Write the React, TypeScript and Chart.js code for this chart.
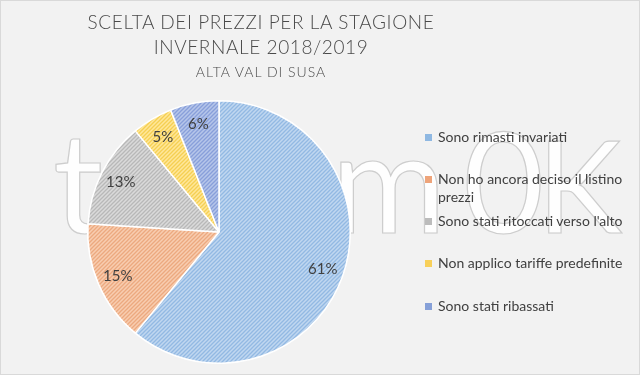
import React, { useEffect, useRef } from "react";
import { Chart, registerables } from "chart.js";

Chart.register(...registerables);

const titleLines = ["SCELTA DEI PREZZI PER LA STAGIONE", "INVERNALE 2018/2019"];
const subtitle = "ALTA VAL DI SUSA";
const categories = [
  "Sono rimasti invariati",
  "Non ho ancora deciso il listino prezzi",
  "Sono stati ritoccati verso l'alto",
  "Non applico tariffe predefinite",
  "Sono stati ribassati",
];
const values = [61, 15, 13, 5, 6];
const bgColors = ["#c0d7f0", "#f8cdb0", "#dadada", "#ffe79a", "#b6c6ea"];
const lineColors = ["#92b9e3", "#eca97f", "#b8b8b8", "#f5cf52", "#889fda"];
const legendColors = ["#8fb8e2", "#eea47a", "#bcbcbc", "#f8d05a", "#86a0d8"];

function makePattern(bg: string, fg: string): CanvasPattern | string {
  const s = 4;
  const c = document.createElement("canvas");
  c.width = s;
  c.height = s;
  const x = c.getContext("2d");
  if (!x) return bg;
  x.fillStyle = bg;
  x.fillRect(0, 0, s, s);
  x.strokeStyle = fg;
  x.lineWidth = 1.3;
  x.beginPath();
  x.moveTo(-1, s + 1);
  x.lineTo(s + 1, -1);
  x.moveTo(-1, 1);
  x.lineTo(1, -1);
  x.moveTo(s - 1, s + 1);
  x.lineTo(s + 1, s - 1);
  x.stroke();
  const p = x.createPattern(c, "repeat");
  return p || bg;
}

const labelPlugin = {
  id: "pctLabels",
  afterDatasetsDraw(chart: any) {
    const ctx = chart.ctx;
    const meta = chart.getDatasetMeta(0);
    ctx.save();
    ctx.font = "400 15px Lato";
    ctx.fillStyle = "#404040";
    ctx.textAlign = "center";
    ctx.textBaseline = "middle";
    meta.data.forEach((arc: any, i: number) => {
      const mid = (arc.startAngle + arc.endAngle) / 2;
      const r = arc.outerRadius * 0.84;
      ctx.fillText(values[i] + "%", arc.x + Math.cos(mid) * r, arc.y + Math.sin(mid) * r);
    });
    ctx.restore();
  },
};

const wmStyle: React.CSSProperties = {
  position: "absolute",
  fontFamily: "Lato, sans-serif",
  fontWeight: 400,
  fontSize: 140,
  lineHeight: "140px",
  color: "rgba(255,255,255,0.9)",
  WebkitTextStroke: "1.2px rgba(200,200,200,0.9)",
};

export default function App() {
  const ref = useRef<HTMLCanvasElement>(null);
  useEffect(() => {
    if (!ref.current) return;
    const patterns = bgColors.map((b, i) => makePattern(b, lineColors[i]));
    const chart = new Chart(ref.current, {
      type: "pie",
      data: {
        labels: categories,
        datasets: [
          {
            data: values,
            backgroundColor: patterns as any,
            borderColor: "#ffffff",
            borderWidth: 1.5,
          },
        ],
      },
      options: {
        responsive: false,
        animation: false,
        layout: { padding: { left: 87, top: 100, right: 289, bottom: 11 } },
        plugins: {
          legend: { display: false },
          tooltip: { enabled: false },
          title: { display: false },
        },
      },
      plugins: [labelPlugin],
    });
    return () => chart.destroy();
  }, []);

  const legendTops = [136, 178, 220, 262, 305];

  return (
    <div
      style={{
        position: "fixed",
        left: 0,
        top: 0,
        width: 640,
        height: 375,
        background: "#f2f2f2",
        boxSizing: "border-box",
        border: "1px solid #d9d9d9",
        overflow: "hidden",
        fontFamily: "Lato, sans-serif",
      }}
    >
      <div aria-hidden="true">
        <span style={{ ...wmStyle, left: 52, top: 108 }}>t</span>
        <span style={{ ...wmStyle, left: 330, top: 108 }}>m</span>
        <span style={{ ...wmStyle, left: 462, top: 108 }}>0</span>
        <span style={{ ...wmStyle, left: 536, top: 108, fontSize: 128, lineHeight: "150px" }}>K</span>
      </div>
      <canvas ref={ref} width={640} height={375} style={{ position: "absolute", left: -1, top: -1 }} />
      <div
        style={{
          position: "absolute",
          left: 0,
          width: 520,
          top: 8,
          textAlign: "center",
          color: "#4a4a4a",
          fontWeight: 300,
          fontSize: 19,
          letterSpacing: 0.6,
          lineHeight: "25px",
        }}
      >
        {titleLines.map((t, i) => (
          <div key={i}>{t}</div>
        ))}
        <div style={{ fontSize: 14, lineHeight: "25px", letterSpacing: 1 }}>{subtitle}</div>
      </div>
      <div style={{ position: "absolute", left: 0, top: 0 }}>
        {categories.map((c, i) => (
          <div
            key={i}
            style={{
              position: "absolute",
              left: 424,
              top: legendTops[i] - 9,
              width: 210,
              fontSize: 14,
              lineHeight: "18px",
              color: "#404040",
              display: "flex",
              alignItems: "flex-start",
            }}
          >
            <span
              style={{
                display: "inline-block",
                width: 7,
                height: 7,
                background: legendColors[i],
                marginTop: 6,
                marginRight: 6,
                flex: "none",
              }}
            />
            <span style={{ width: 195 }}>{c}</span>
          </div>
        ))}
      </div>
    </div>
  );
}
